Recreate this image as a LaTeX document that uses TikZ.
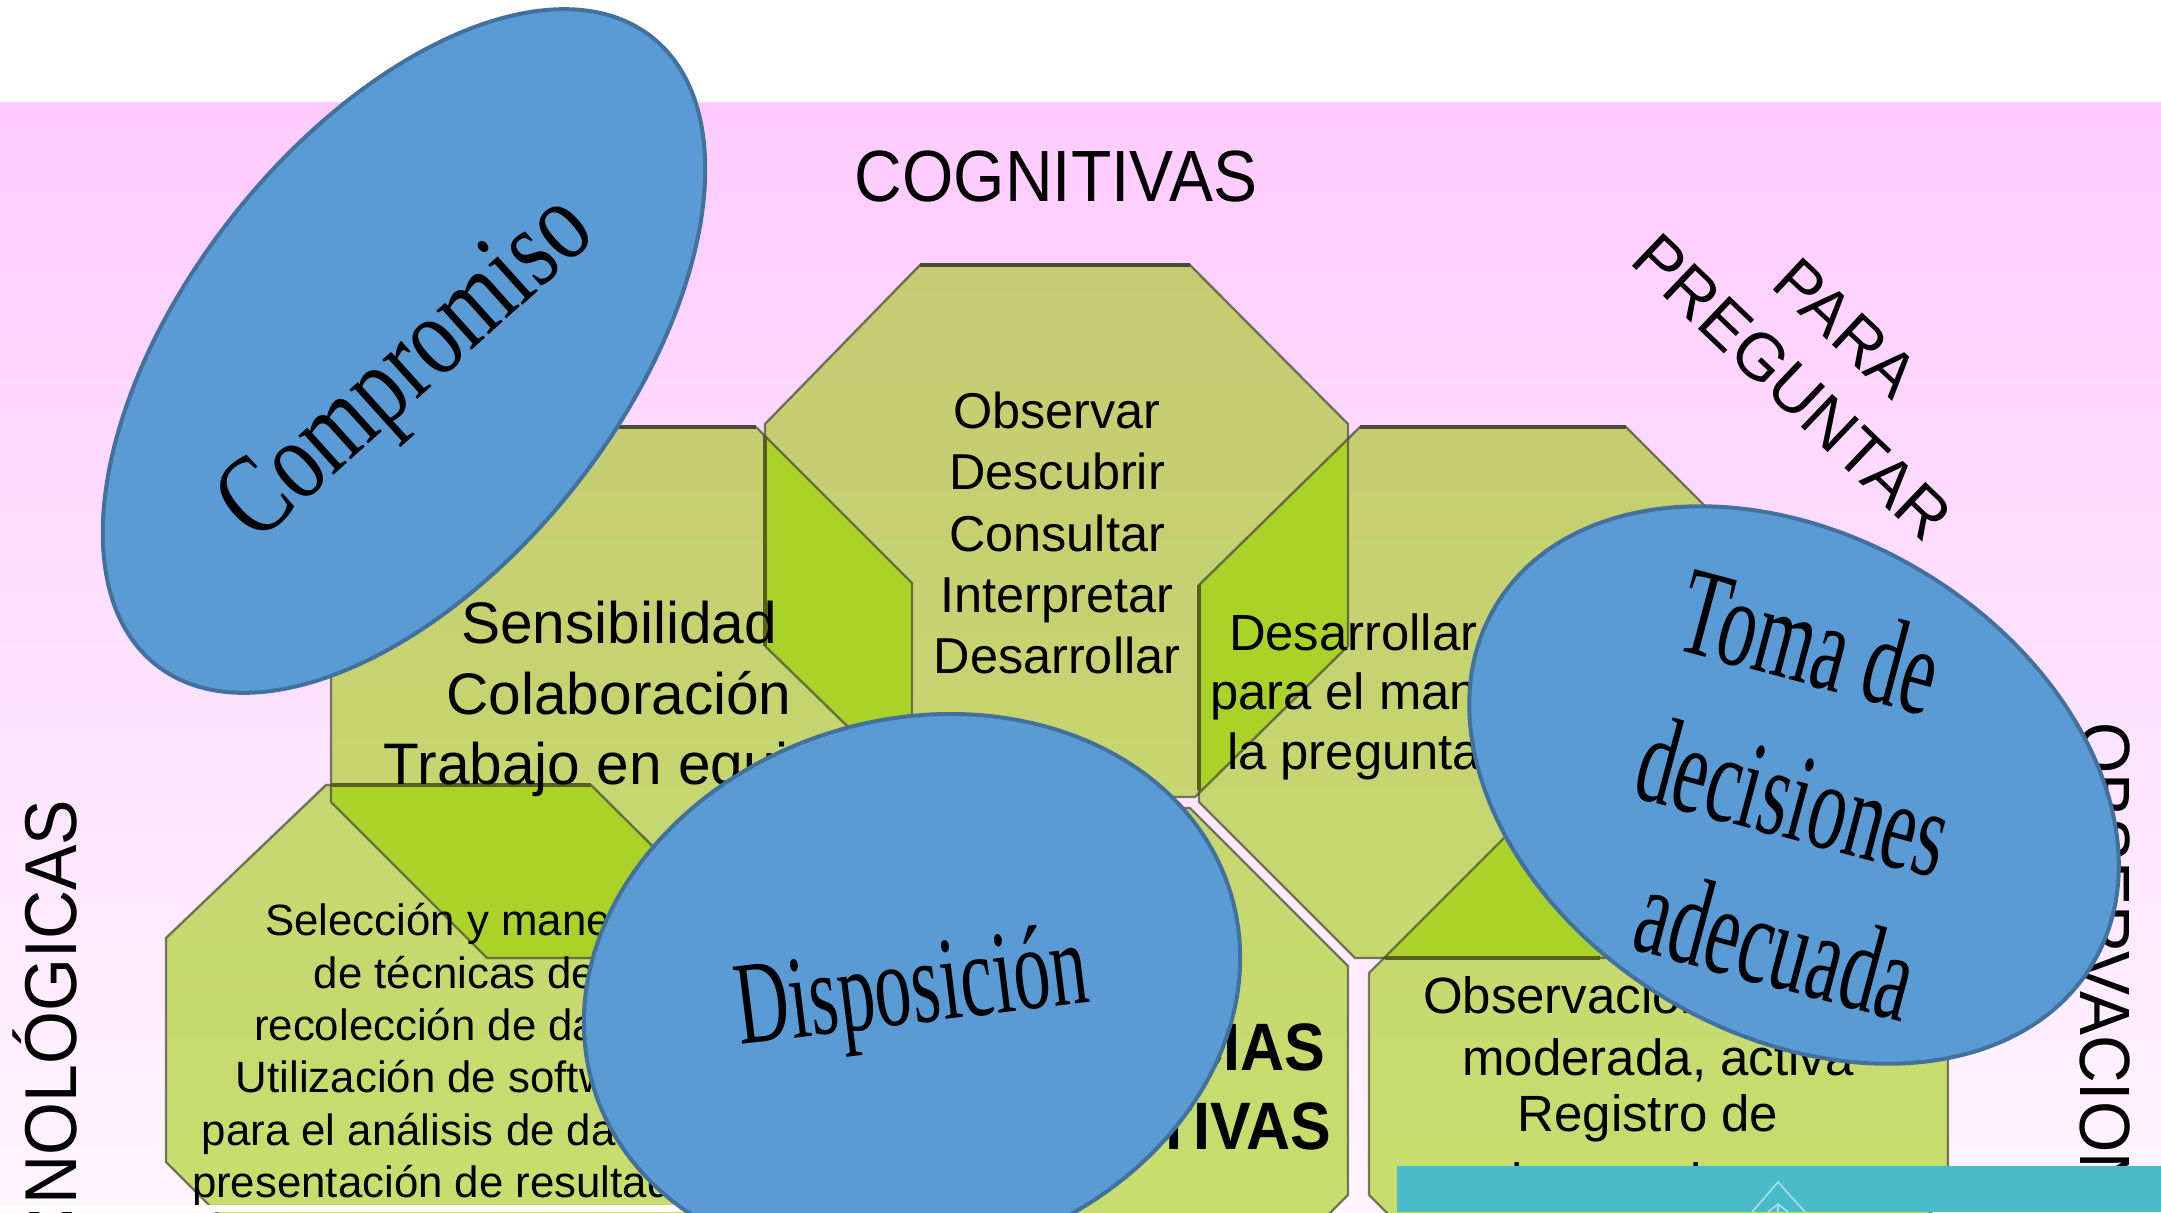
\documentclass[tikz,border=0pt]{standalone}
\usepackage{fontspec}
\usepackage{graphicx}
\setmainfont{Liberation Sans}
\newfontfamily\serifface{Liberation Serif}
\usetikzlibrary{shapes.geometric}
\definecolor{bandtop}{HTML}{FFCBFF}
\definecolor{bandbot}{HTML}{FFF5FF}
\definecolor{olivetop}{HTML}{C5CB72}
\definecolor{olivebot}{HTML}{C7DE6E}
\definecolor{bright}{HTML}{ABD229}
\definecolor{edgecol}{HTML}{4A4A38}
\definecolor{darkolive}{HTML}{55601F}
\definecolor{blobfill}{HTML}{5B9BD5}
\definecolor{blobedge}{HTML}{41719C}
\definecolor{tealbar}{HTML}{4ABBCB}
\definecolor{tealline}{HTML}{A6E2E8}
\def\octA{(920,265)--(1190,265)--(1348,424)--(1348,646)--(1195,797)--(920,797)--(765,646)--(765,424)--cycle}
\def\octB{(487,427)--(756,427)--(912,583)--(912,802)--(756,958)--(487,958)--(331,802)--(331,583)--cycle}
\def\octC{(1360,427)--(1626,427)--(1782,583)--(1782,802)--(1626,958)--(1355,958)--(1199,802)--(1199,585)--cycle}
\def\octD{(326,785)--(591,785)--(745,938)--(745,1162)--(591,1316)--(320,1316)--(166,1162)--(166,938)--cycle}
\def\octE{(900,808)--(1190,808)--(1348,966)--(1348,1195)--(1231,1312)--(850,1312)--(700,1212)--(700,966)--cycle}
\def\octF{(1523,819)--(1794,819)--(1948,973)--(1948,1195)--(1831,1312)--(1486,1312)--(1369,1195)--(1369,973)--cycle}
\tikzset{
  x=0.5pt,y=-0.5pt,
  shapeedge/.style={draw=edgecol,draw opacity=0.72,line width=1.2pt,line join=round},
  heavyedge/.style={draw=edgecol,line width=2.2pt},
  oliveedge/.style={draw=darkolive,line width=1.6pt},
  blob/.style={shape=ellipse,fill=blobfill,draw=blobedge,line width=2pt,inner sep=0pt},
  plain/.style={inner sep=0pt,outer sep=0pt,align=center,text=black},
  sidelabel/.style={inner sep=0pt,outer sep=0pt,text=black},
}
\newcommand{\octfill}[1]{\begin{scope}\clip #1;\shade[top color=olivetop,bottom color=olivebot] (0,265) rectangle (2161,1212);\end{scope}}
\newcommand{\overlapfill}[2]{\begin{scope}\clip #1;\clip #2;\fill[bright] (0,0) rectangle (2161,1212);\end{scope}}
\newcommand{\tall}[2]{\scalebox{1}[#1]{#2}}
\begin{document}
\begin{tikzpicture}
\useasboundingbox (0,0) rectangle (2161,1212);
\clip (0,0) rectangle (2161,1212);
\fill[white] (0,0) rectangle (2161,1212);
\shade[top color=bandtop,bottom color=bandbot] (0,102) rectangle (2161,1212);
% octagons
\octfill{\octE}\octfill{\octF}\octfill{\octC}\octfill{\octB}\octfill{\octD}\octfill{\octA}
\overlapfill{\octA}{\octB}
\overlapfill{\octA}{\octC}
\overlapfill{\octB}{\octD}
\overlapfill{\octC}{\octF}
\draw[shapeedge] \octE;
\draw[shapeedge] \octF;
\draw[shapeedge] \octC;
\draw[shapeedge] \octB;
\draw[shapeedge] \octD;
\draw[shapeedge] \octA;
\draw[heavyedge] (920,265)--(1190,265);
\draw[heavyedge] (487,427)--(756,427);
\draw[heavyedge] (1360,427)--(1626,427);
\draw[oliveedge] (765,436)--(765,646);
\draw[oliveedge] (1199,585)--(1199,790);
\draw[oliveedge] (1385,958)--(1600,958);
\draw[oliveedge] (331,785)--(591,785);
% texts
\node[plain,font=\fontsize{33}{40}\selectfont] (cog) at (1056,176) {\tall{1.1}{COGNITIVAS}};
\node[sidelabel,font=\fontsize{33}{40}\selectfont,rotate=-43.6,anchor=base west] (preg) at (1628,262) {PREGUNTAR};
\node[sidelabel,font=\fontsize{32}{40}\selectfont,rotate=-43,anchor=base west] (para) at (1769,286) {PARA};
\node[sidelabel,font=\fontsize{34}{40}\selectfont,rotate=90,anchor=base east] (tec) at (76,800) {\tall{1.08}{TECNOLÓGICAS}};
\node[sidelabel,font=\fontsize{33}{40}\selectfont,rotate=-90,anchor=base west] (obs) at (2080,722) {\tall{1.08}{OBSERVACION}};
\node[plain,font=\fontsize{25.2}{30.6}\selectfont] (txtA) at (1057,533) {Observar\\Descubrir\\Consultar\\Interpretar\\Desarrollar};
\node[plain,font=\fontsize{29.3}{35.1}\selectfont] (txtB) at (619,699) {Sensibilidad\\Colaboración\\Trabajo en equipo};
\node[plain,font=\fontsize{21.9}{26.2}\selectfont] (txtD) at (455,1055) {Selección y manejo\\de técnicas de\\recolección de datos\\Utilización de software\\para el análisis de datos y\\presentación de resultados};
\node[sidelabel,anchor=west,font=\fontsize{25.4}{30}\selectfont] (txtC1) at (1229,632) {Desarrollar};
\node[sidelabel,anchor=west,font=\fontsize{25.4}{30}\selectfont] (txtC2) at (1210,696) {para el manejo de};
\node[sidelabel,anchor=west,font=\fontsize{25.4}{30}\selectfont] (txtC3) at (1227,756) {la pregunta};
\node[sidelabel,anchor=west,font=\fontsize{25.5}{30}\selectfont] (txtF1) at (1423,995) {Observación};
\node[plain,font=\fontsize{25.5}{30}\selectfont] (txtF2) at (1658,1060) {moderada, activa};
\node[plain,font=\fontsize{25.5}{30}\selectfont] (txtF3) at (1648,1118) {Registro de};
\node[plain,font=\fontsize{25.5}{30}\selectfont] (txtF4) at (1648,1181) {observaciones};
\node[sidelabel,anchor=east,font=\bfseries\fontsize{30.5}{36}\selectfont] (txtE1) at (1325,1047) {\tall{1.1}{COMPETENCIAS}};
\node[sidelabel,anchor=east,font=\bfseries\fontsize{30.5}{36}\selectfont] (txtE2) at (1331,1126) {\tall{1.1}{INVESTIGATIVAS}};
% strip and bar
\fill[white] (0,1205) rectangle (700,1212);
\fill[tealbar] (1397,1166) rectangle (2161,1212);
\draw[tealline,line width=0.8pt] (1752,1212)--(1778,1182)--(1805,1212);
\draw[tealline,line width=0.8pt] (1768,1212)--(1778,1204)--(1788,1212);
\draw[tealline,line width=0.8pt] (1778,1204)--(1778,1212);
% ellipses
\node[blob,minimum width=400pt,minimum height=218pt,rotate=51.7] (ecomp) at (404,351) {};
\node[blob,minimum width=348pt,minimum height=249pt,rotate=-31] (etoma) at (1794,785) {};
\node[blob,minimum width=333pt,minimum height=270pt,rotate=17] (edisp) at (912,990) {};
\node[plain,font=\serifface\fontsize{44}{50}\selectfont,rotate=42] (tcomp) at (410,372) {\tall{1.3}{Compromiso}};
\node[plain,font=\serifface\fontsize{37}{50}\selectfont,rotate=7] (tdisp) at (912,995) {\tall{1.6}{Disposición}};
\node[plain,font=\serifface\fontsize{38}{50}\selectfont,rotate=-15] (tt1) at (1810,641) {\tall{1.65}{Toma de}};
\node[plain,font=\serifface\fontsize{38}{50}\selectfont,rotate=-15] (tt2) at (1794,796) {\tall{1.65}{decisiones}};
\node[plain,font=\serifface\fontsize{38}{50}\selectfont,rotate=-15] (tt3) at (1777,944) {\tall{1.65}{adecuada}};
\end{tikzpicture}
\end{document}
